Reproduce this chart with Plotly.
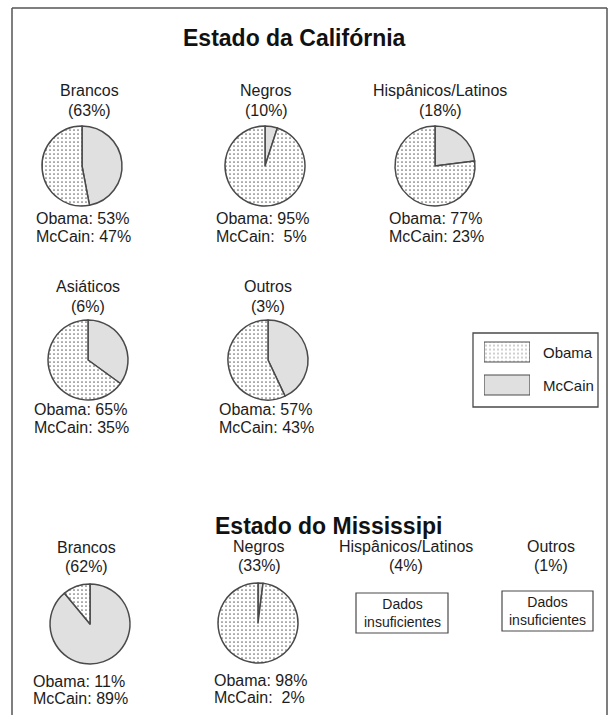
import plotly.graph_objects as go

# ---------------- data ----------------
candidates = ["McCain", "Obama"]
titles = ["Estado da Califórnia", "Estado do Mississipi"]

ca_groups = ["Brancos", "Negros", "Hispânicos/Latinos", "Asiáticos", "Outros"]
ca_share = [63, 10, 18, 6, 3]
ca_obama = [53, 95, 77, 65, 57]
ca_mccain = [47, 5, 23, 35, 43]

ms_groups = ["Brancos", "Negros", "Hispânicos/Latinos", "Outros"]
ms_share = [62, 33, 4, 1]
ms_obama = [11, 98, None, None]
ms_mccain = [89, 2, None, None]

no_data_text = "Dados<br>insuficientes"

# ---------------- layout positions (pixels) ----------------
W, H = 610, 715
ca_pie_c = [(82, 166), (265, 166), (435, 166), (88, 360), (268, 360)]
ca_label = [(89, 91), (266, 91), (440, 91), (88, 286), (268, 286)]
ca_text = [(35, 218), (215, 218), (388, 218), (33, 409), (218, 409)]

ms_pie_c = [(90, 624), (258, 623), None, None]
ms_label = [(86, 547), (259, 546), (406, 546), (551, 546)]
ms_text = [(32, 681), (213, 680), None, None]
ms_box = [None, None, (356, 593, 448, 633), (502, 591, 593, 631)]

R = 40
FONT = "Liberation Sans, Arial, sans-serif"
TXT = "#1c1c1c"
LINE = "#4a4a4a"
GRAY = "#e0e0e0"
DOT = "#6a6a6a"


def px(x):
    return x / W


def py(y):
    return 1 - y / H


fig = go.Figure()
annotations = []
shapes = []

pattern = dict(shape=["", "."], fgcolor=[GRAY, DOT], bgcolor=[GRAY, "white"],
               size=4, solidity=0.14)


def add_pie(c, mccain, obama):
    cx, cy = c
    fig.add_trace(go.Pie(
        labels=candidates,
        values=[mccain, obama],
        sort=False,
        direction="clockwise",
        rotation=0,
        textinfo="none",
        hoverinfo="label+percent",
        showlegend=False,
        domain=dict(x=[px(cx - R), px(cx + R)], y=[py(cy + R), py(cy - R)]),
        marker=dict(colors=[GRAY, "white"], line=dict(color=LINE, width=1.5),
                    pattern=pattern),
    ))


def add_text(x, y, text, size=16, anchor="center"):
    annotations.append(dict(
        x=px(x), y=py(y), xref="paper", yref="paper", text=text,
        showarrow=False, xanchor=anchor, yanchor="middle",
        align="left" if anchor == "left" else "center",
        borderpad=0,
        font=dict(family=FONT, size=size, color=TXT),
    ))


def pct(v):
    return (" \u00a0" if v < 10 else " ") + f"{v}%"


# California
for i, g in enumerate(ca_groups):
    add_pie(ca_pie_c[i], ca_mccain[i], ca_obama[i])
    lx, ly = ca_label[i]
    add_text(lx, ly, g)
    add_text(lx, ly + 20, f"({ca_share[i]}%)")
    tx, ty = ca_text[i]
    add_text(tx, ty, f"Obama:{pct(ca_obama[i])}", anchor="left")
    add_text(tx, ty + 18, f"McCain:{pct(ca_mccain[i])}", anchor="left")

# Mississippi
for i, g in enumerate(ms_groups):
    lx, ly = ms_label[i]
    add_text(lx, ly, g)
    add_text(lx, ly + 19, f"({ms_share[i]}%)")
    if ms_obama[i] is not None:
        add_pie(ms_pie_c[i], ms_mccain[i], ms_obama[i])
        tx, ty = ms_text[i]
        add_text(tx, ty, f"Obama:{pct(ms_obama[i])}", anchor="left")
        add_text(tx, ty + 17, f"McCain:{pct(ms_mccain[i])}", anchor="left")
    else:
        x0, y0, x1, y1 = ms_box[i]
        shapes.append(dict(type="rect", xref="paper", yref="paper",
                           x0=px(x0), x1=px(x1), y0=py(y1), y1=py(y0),
                           line=dict(color=LINE, width=1.2), fillcolor="white"))
        add_text((x0 + x1) / 2, (y0 + y1) / 2, no_data_text, size=14)

# Titles
for t, (tx, ty) in zip(titles, [(294, 38), (329, 526)]):
    annotations.append(dict(x=px(tx), y=py(ty), xref="paper", yref="paper", text=f"<b>{t}</b>",
                            showarrow=False, xanchor="center", yanchor="middle", borderpad=0,
                            font=dict(family=FONT, size=23, color="#111")))

# Legend (custom): box, swatches as bars, labels
shapes.append(dict(type="rect", xref="paper", yref="paper",
                   x0=px(473), x1=px(598), y0=py(407), y1=py(333),
                   line=dict(color=LINE, width=1.3), fillcolor="white", layer="below"))
fig.add_trace(go.Bar(
    x=[1, 1], y=candidates, orientation="h", xaxis="x", yaxis="y",
    showlegend=False, hoverinfo="y",
    marker=dict(color=[GRAY, "white"], line=dict(color=LINE, width=1.2), pattern=pattern),
))
add_text(542, 352, candidates[1], size=15, anchor="left")
add_text(542, 386, candidates[0], size=15, anchor="left")

# Frame
for (x0, y0, x1, y1) in [(12, 8, 607, 8), (12, 8, 12, 715), (607, 8, 607, 715)]:
    shapes.append(dict(type="line", xref="paper", yref="paper",
                       x0=px(x0), x1=px(x1), y0=py(y0), y1=py(y1),
                       line=dict(color="#555", width=1.5)))

fig.update_layout(
    width=W, height=H,
    margin=dict(l=0, r=0, t=0, b=0),
    paper_bgcolor="white", plot_bgcolor="rgba(0,0,0,0)",
    annotations=annotations, shapes=shapes,
    bargap=0.394,
    xaxis=dict(domain=[px(484), px(530)], range=[0, 1], visible=False, fixedrange=True),
    yaxis=dict(domain=[py(401.5), py(335.5)], visible=False, fixedrange=True),
)

fig.write_html(
    "out.html",
    config={"displayModeBar": False},
    post_script="document.body.style.margin='0';document.body.style.overflow='hidden';",
)
